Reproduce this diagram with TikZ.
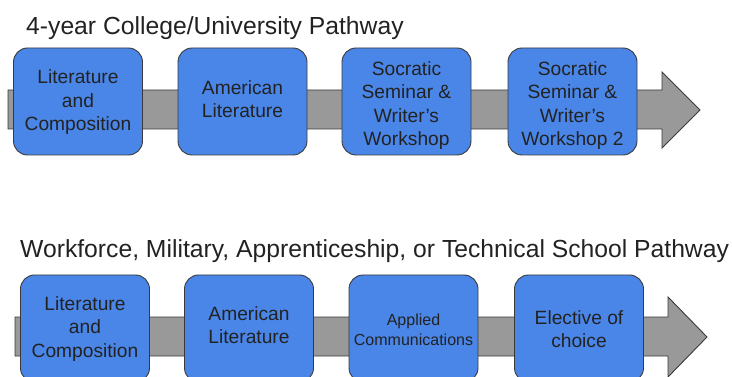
\documentclass[tikz,border=0pt]{standalone}
\usepackage{fontspec}
\setmainfont{Liberation Sans}
\definecolor{boxblue}{HTML}{4A86E8}
\definecolor{boxline}{HTML}{3A3A3A}
\definecolor{arrowgray}{HTML}{999999}
\definecolor{txt}{HTML}{222222}
\begin{document}
\begin{tikzpicture}[x=1pt,y=-1pt,
  course/.style={draw=boxline, line width=0.9pt, fill=boxblue, rounded corners=14pt,
    minimum width=129pt, minimum height=107pt, inner sep=0pt},
  coursetext/.style={align=center, text=txt, inner sep=0pt,
    font=\fontsize{19.2}{23.5}\selectfont},
  smalltext/.style={coursetext, font=\fontsize{16}{20}\selectfont},
  bigarrow/.style={draw=boxline, line width=0.9pt, fill=arrowgray},
  title/.style={anchor=base west, inner sep=0pt, text=txt, font=\fontsize{24.7}{29}\selectfont}]
\clip (0,0) rectangle (732,377);
\useasboundingbox (0,0) rectangle (732,377);
% top pathway
\node[title] (t1) at (26,34.5) {4-year College/University Pathway};
\draw[bigarrow] (8,90) -- (662,90) -- (662,72) -- (700,110) -- (662,148) -- (662,129) -- (8,129) -- cycle;
\node[course] (a1) at (78,101.5) {};
\node[course] (a2) at (242.5,101.5) {};
\node[course] (a3) at (406.5,101.5) {};
\node[course] (a4) at (572.5,101.5) {};
\node[coursetext] (a1t) at ([yshift=-1pt]a1.center) {Literature\\and\\Composition};
\node[coursetext] (a2t) at ([yshift=2.5pt]a2.center) {American\\Literature};
\node[coursetext] (a3t) at ([yshift=-4pt]a3.center) {Socratic\\Seminar \&\\Writer’s\\Workshop};
\node[coursetext] (a4t) at ([yshift=-4pt]a4.center) {Socratic\\Seminar \&\\Writer’s\\Workshop 2};
% bottom pathway
\node[title] (t2) at (20,257.5) {Workforce, Military, Apprenticeship, or Technical School Pathway};
\draw[bigarrow] (15,317) -- (668,317) -- (668,297) -- (707,337) -- (668,377) -- (668,356) -- (15,356) -- cycle;
\node[course] (b1) at (85,328.5) {};
\node[course] (b2) at (249,328.5) {};
\node[course] (b3) at (413.5,328.5) {};
\node[course] (b4) at (579,328.5) {};
\node[coursetext] (b1t) at ([yshift=-0.5pt]b1.center) {Literature\\and\\Composition};
\node[coursetext] (b2t) at ([yshift=3.5pt]b2.center) {American\\Literature};
\node[smalltext] (b3t) at ([yshift=-1.5pt]b3.center) {Applied\\Communications};
\node[coursetext] (b4t) at ([yshift=-0.5pt]b4.center) {Elective of\\choice};
\end{tikzpicture}
\end{document}
